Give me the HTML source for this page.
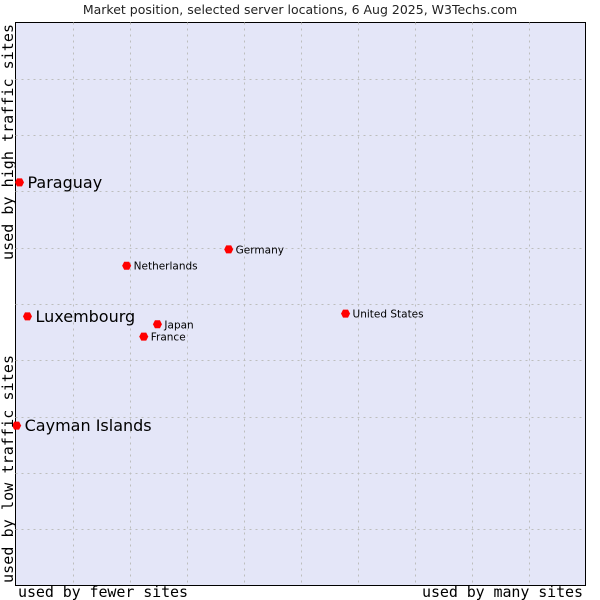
<!DOCTYPE html>
<html><head><meta charset="utf-8"><style>
body{margin:0;background:#fff;width:600px;height:600px;overflow:hidden}
svg{display:block}
</style></head><body>
<svg id="chart" width="600" height="600" xmlns="http://www.w3.org/2000/svg">
<text x="300" y="14" text-anchor="middle" font-family="DejaVu Sans, sans-serif" font-size="12.5" fill="#222">Market position, selected server locations, 6 Aug 2025, W3Techs.com</text>
<rect x="15.5" y="22.5" width="570" height="563" fill="#e4e6f8" stroke="#000" stroke-width="1"/>
<g id="grid"></g>
<g id="points"></g>
<text x="18" y="597" font-family="DejaVu Sans Mono, monospace" font-size="15" textLength="170" fill="#000">used by fewer sites</text>
<text x="422" y="597" font-family="DejaVu Sans Mono, monospace" font-size="15" textLength="161" fill="#000">used by many sites</text>
<text transform="translate(13,260) rotate(-90)" font-family="DejaVu Sans Mono, monospace" font-size="15" textLength="236" fill="#000">used by high traffic sites</text>
<text transform="translate(13,583) rotate(-90)" font-family="DejaVu Sans Mono, monospace" font-size="15" textLength="228" fill="#000">used by low traffic sites</text>
</svg>
<script>
const countries=["Paraguay","Luxembourg","Cayman Islands","Netherlands","Germany","Japan","France","United States"];
const xValues=[0.7,2.1,0.2,19.5,37.4,24.9,22.5,57.9];
const yValues=[71.6,47.8,28.4,56.8,59.7,46.4,44.2,48.3];
const bigLabel=[true,true,true,false,false,false,false,false];
const L=15.5,T=22.5,W=570,H=563;
const xs=v=>L+v/100*W, ys=v=>T+H-v/100*H;
const NS="http://www.w3.org/2000/svg";
const grid=document.getElementById('grid');
for(let i=1;i<10;i++){
  const x=Math.round(L+i*W/10)+0.5;
  const l=document.createElementNS(NS,'line');
  
  
  l.setAttribute('x1',x);l.setAttribute('x2',x);l.setAttribute('y1',T);l.setAttribute('y2',T+H);
  l.setAttribute('stroke','#bdbdbd');l.setAttribute('stroke-dasharray','2,4');
  grid.appendChild(l);
  const y=Math.round(T+i*H/10)+0.5;
  const h=document.createElementNS(NS,'line');
  
  
  h.setAttribute('x1',L);h.setAttribute('x2',L+W);h.setAttribute('y1',y);h.setAttribute('y2',y);
  h.setAttribute('stroke','#bdbdbd');h.setAttribute('stroke-dasharray','2,4');
  grid.appendChild(h);
}
const pts=document.getElementById('points');
countries.forEach((c,i)=>{
  const x=xs(xValues[i]),y=ys(yValues[i]);
  const d=document.createElementNS(NS,'path');
  
  
  d.setAttribute('d',`M${x-4.5},${y}L${x-2.5},${y-4}L${x+2.5},${y-4}L${x+4.5},${y}L${x+2.5},${y+4}L${x-2.5},${y+4}Z`);
  d.setAttribute('fill','#f00');
  pts.appendChild(d);
  const t=document.createElementNS(NS,'text');
  
  
  t.setAttribute('x',x+(bigLabel[i]?8:7));
  t.setAttribute('y',y+(bigLabel[i]?5.5:4));
  t.setAttribute('font-family','DejaVu Sans, sans-serif');
  t.setAttribute('font-size',bigLabel[i]?'16':'10.5');
  t.setAttribute('fill','#000');
  t.textContent=c;
  pts.appendChild(t);
});
</script>
</body></html>
